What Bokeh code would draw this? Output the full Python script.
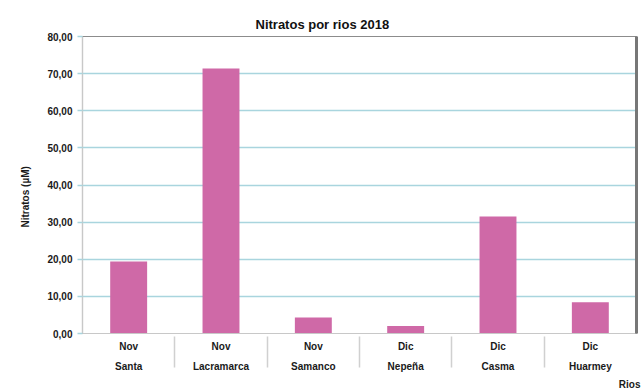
from bokeh.plotting import figure
from bokeh.models import FactorRange, Range1d, FixedTicker, LinearAxis, Title
from bokeh.embed import file_html
from bokeh.resources import INLINE

rivers = ["Santa", "Lacramarca", "Samanco", "Nepeña", "Casma", "Huarmey"]
months = ["Nov", "Nov", "Nov", "Dic", "Dic", "Dic"]
nitratos = [19.4, 71.4, 4.3, 2.0, 31.5, 8.4]
y_ticks = [0, 10, 20, 30, 40, 50, 60, 70, 80]
y_tick_labels = ["0,00", "10,00", "20,00", "30,00", "40,00", "50,00", "60,00", "70,00", "80,00"]

FONT = "Liberation Sans"
factors = list(zip(rivers, months))

p = figure(
    x_range=FactorRange(*factors, group_padding=0, factor_padding=0, range_padding=0),
    y_range=Range1d(0, 80),
    width=641, height=392,
    output_backend="svg", toolbar_location=None,
    min_border_left=82, min_border_right=5, min_border_top=36, min_border_bottom=59,
    title="Nitratos por rios 2018",
)
p.outline_line_color = "#8c8c8c"
p.outline_line_width = 1.2

p.title.text_font = FONT
p.title.text_font_size = "13px"
p.title.text_font_style = "bold"
p.title.align = "left"
p.title.offset = 173
p.title.text_color = "#111111"

p.vbar(x=factors, top=nitratos, width=0.4, fill_color="#cf69a7", line_color=None)

# grid
p.xgrid.grid_line_color = None
p.ygrid.ticker = FixedTicker(ticks=y_ticks)
p.ygrid.grid_line_color = "#a9d5de"
p.ygrid.grid_line_width = 1.5

# y axis
ya = p.yaxis[0]
ya.ticker = FixedTicker(ticks=y_ticks)
ya.major_label_overrides = {t: l for t, l in zip(y_ticks, y_tick_labels)}
ya.minor_tick_line_color = None
ya.major_tick_in = 0
ya.major_tick_out = 5
ya.major_tick_line_color = "#a9d5de"
ya.major_tick_line_width = 1.5
ya.axis_line_color = "#c8c8c8"
ya.major_label_text_font = FONT
ya.major_label_text_font_style = "bold"
ya.major_label_text_font_size = "10px"
ya.major_label_text_color = "#1a1a1a"
ya.major_label_standoff = 5

# x axis
xa = p.xaxis[0]
xa.axis_line_color = "#c8c8c8"
xa.major_tick_line_color = None
xa.major_tick_in = 0
xa.major_tick_out = 1
xa.major_label_text_font = FONT
xa.major_label_text_font_style = "bold"
xa.major_label_text_font_size = "10px"
xa.major_label_text_color = "#1a1a1a"
xa.major_label_standoff = 6
xa.group_text_font = FONT
xa.group_text_font_style = "bold"
xa.group_text_font_size = "10px"
xa.group_text_color = "#1a1a1a"
xa.separator_line_color = "#d0d0d0"
xa.separator_line_width = 1.5

# axis titles as side titles
p.add_layout(Title(text="Nitratos (µM)", align="left", offset=106, standoff=28,
                   text_font=FONT, text_font_style="bold", text_font_size="10px",
                   text_color="#1a1a1a"), "left")
p.add_layout(Title(text="Rios", align="right", offset=-4, standoff=5,
                   text_font=FONT, text_font_style="bold", text_font_size="10px",
                   text_color="#1a1a1a"), "below")

# right border
ra = LinearAxis(ticker=FixedTicker(ticks=[]), axis_line_color="#777777", axis_line_width=3,
                major_tick_line_color=None, minor_tick_line_color=None,
                major_tick_out=0, major_tick_in=0, major_label_standoff=0,
                major_label_text_font_size="0px")
p.add_layout(ra, "right")

open("out.html", "w").write(file_html(p, INLINE))
